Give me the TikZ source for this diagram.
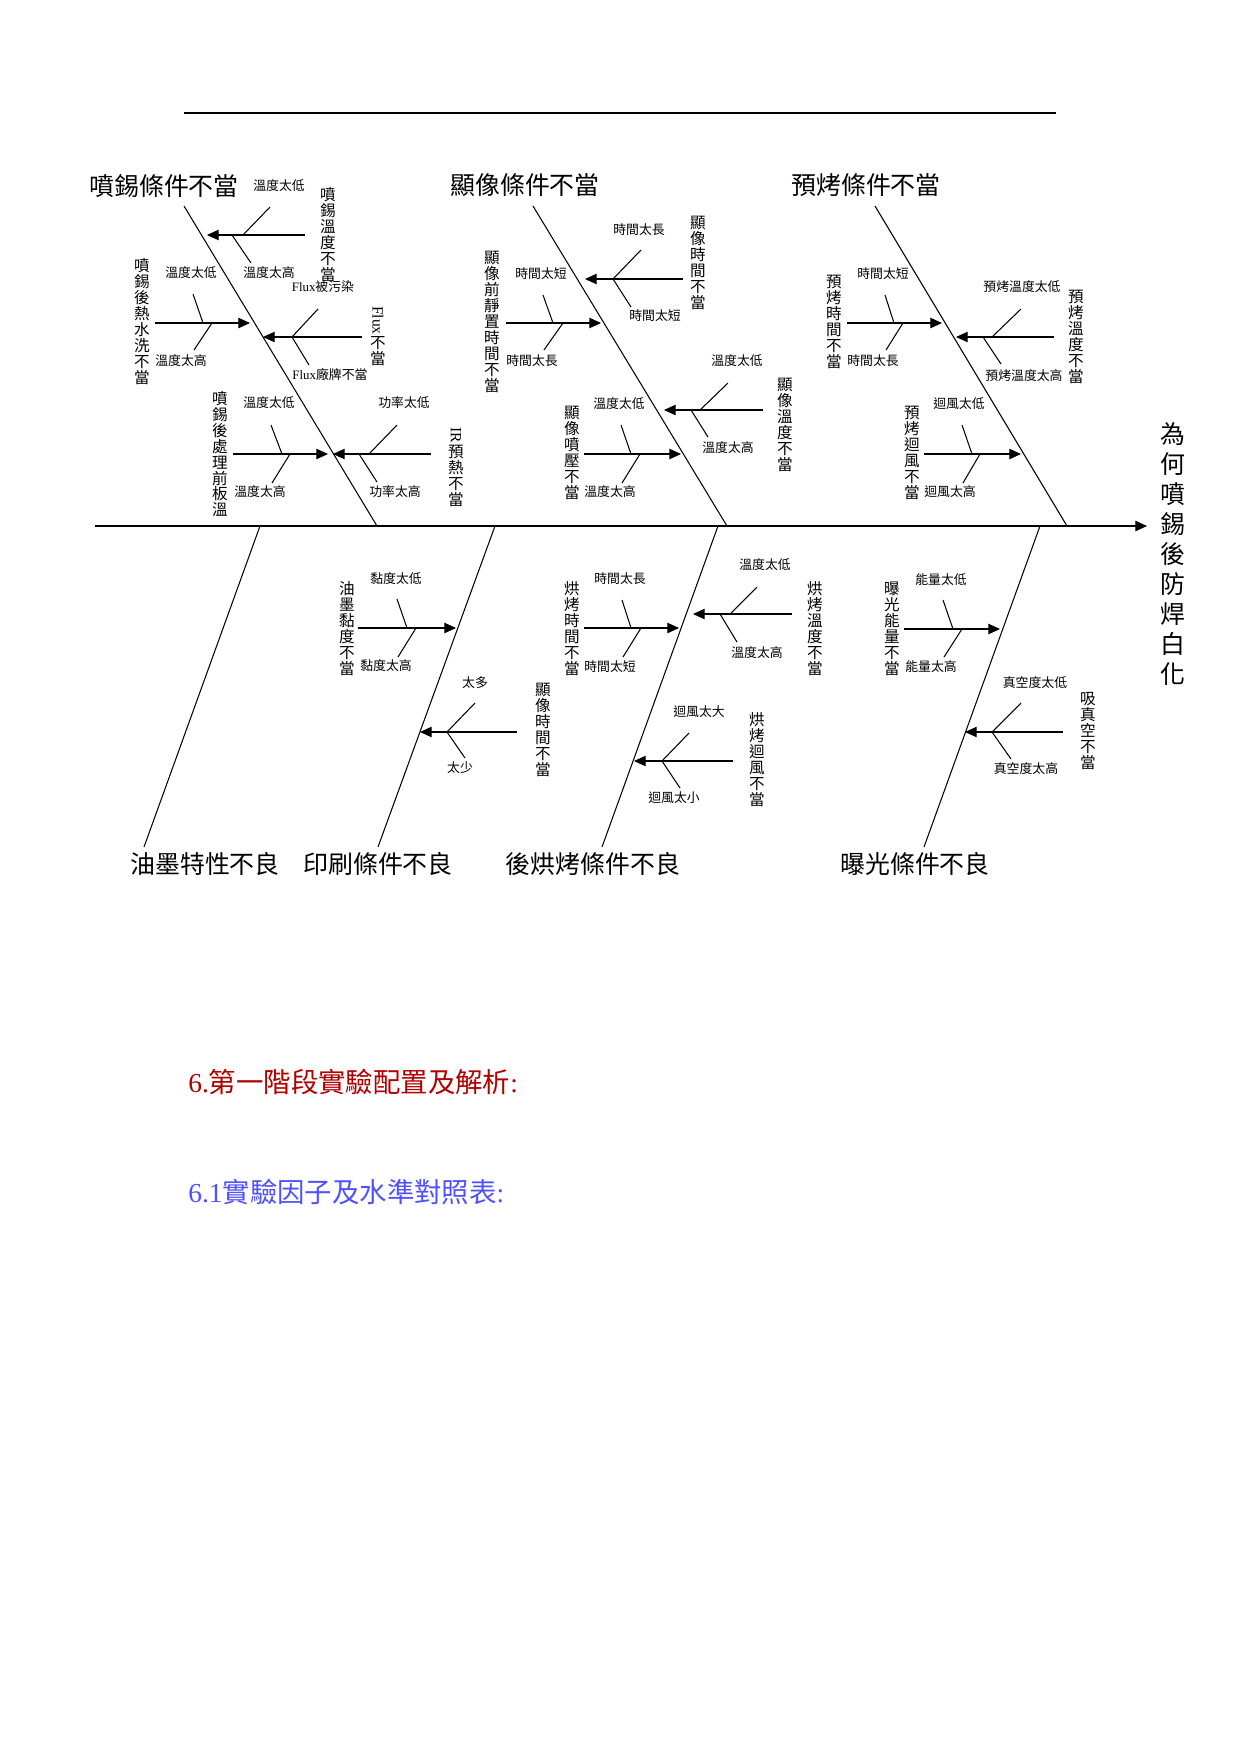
\documentclass[tikz,border=0pt]{standalone}
\usepackage{fontspec}
\newfontfamily\cjk{Noto Sans CJK TC}
\newfontfamily\serif{Liberation Serif}
\usetikzlibrary{arrows.meta}
\tikzset{
  bone/.style={line width=0.5pt},
  cause/.style={line width=0.5pt,-{Triangle[length=5.6pt,width=5pt]}},
  title/.style={font=\cjk\fontsize{12}{14}\selectfont,inner sep=0pt},
  note/.style={font=\cjk\fontsize{6.2}{7}\selectfont,inner sep=0pt},
  vlabel/.style={font=\cjk\fontsize{7.5}{7.7}\selectfont,align=center,inner sep=0pt},
  heading/.style={font=\cjk\fontsize{13.2}{15}\selectfont,inner sep=0pt,anchor=west},
}
\begin{document}
\begin{tikzpicture}[x=0.16933mm,y=-0.16933mm]
  \useasboundingbox (0,0) rectangle (1241,1754);
  \fill[white] (0,0) rectangle (1241,1754);

  % top rule
  \coordinate (rule-l) at (184,113);
  \coordinate (rule-r) at (1056,113);
  \draw[line width=1.1pt] (rule-l) -- (rule-r);

  % spine and effect
  \coordinate (spine-l) at (95,526);
  \coordinate (spine-r) at (1147,526);
  \draw[cause] (spine-l) -- (spine-r);
  \node[title,align=center,font=\cjk\fontsize{12}{14.4}\selectfont] (effect) at (1173,554)
    {為\\何\\噴\\錫\\後\\防\\焊\\白\\化};

  % main bones
  \foreach \n/\xa/\ya/\xb/\yb in {b1/184/206/377/526, b2/533/206/727/526, b3/875/206/1067/526,
      bA/260/526/144/847, bB/495/526/378/847, bC/718/526/602/847, bD/1040/526/924/847}{
    \coordinate (\n-a) at (\xa,\ya);
    \coordinate (\n-b) at (\xb,\yb);
    \draw[bone] (\n-a) -- (\n-b);
  }

  \node[title] (spray)   at (164,186) {噴錫條件不當};
  \node[title] (develop) at (525,185) {顯像條件不當};
  \node[title] (prebake) at (866,185) {預烤條件不當};
  \node[title] (ink)     at (205,864) {油墨特性不良};
  \node[title] (print)   at (378,864) {印刷條件不良};
  \node[title] (postbake) at (593,864) {後烘烤條件不良};
  \node[title] (expose)  at (915,864) {曝光條件不良};

  % sub causes: tail, head, upper twig, lower twig
  \foreach \n/\tx/\hx/\y/\ub/\ux/\uy/\db/\dx/\dy in {
      1a/305/207/235/243/270/207/232/251/263,
      1b/155/250/323/203/193/294/212/194/350,
      1c/362/263/337/292/318/309/292/309/365,
      1d/233/328/454/282/271/425/290/272/483,
      1e/431/333/454/369/397/425/359/377/482,
      2a/683/585/279/613/641/250/613/631/307,
      2b/506/601/323/553/543/295/563/544/350,
      2c/763/664/410/700/728/383/691/708/437,
      2d/584/681/454/631/621/425/640/622/483,
      3a/847/942/323/894/885/295/903/886/350,
      3b/1054/956/337/992/1021/309/983/1001/364,
      3c/924/1021/454/972/962/425/980/963/483,
      Ba/358/456/628/407/397/599/416/398/657,
      Bb/517/420/732/447/475/703/447/465/758,
      Ca/584/679/628/631/622/600/641/623/657,
      Cb/792/693/614/730/757/587/720/737/642,
      Cc/733/634/761/662/689/733/662/680/788,
      Da/904/1000/629/953/943/600/962/944/657,
      Db/1063/965/732/992/1021/703/992/1011/759}{
    \coordinate (\n-t) at (\tx,\y);
    \coordinate (\n-h) at (\hx,\y);
    \coordinate (\n-u0) at (\ub,\y);
    \coordinate (\n-u1) at (\ux,\uy);
    \coordinate (\n-d0) at (\db,\y);
    \coordinate (\n-d1) at (\dx,\dy);
    \draw[cause] (\n-t) -- (\n-h);
    \draw[bone] (\n-u0) -- (\n-u1);
    \draw[bone] (\n-d0) -- (\n-d1);
  }

  % 噴錫條件不當
  \node[vlabel] (1a) at (328,235) {噴\\錫\\溫\\度\\不\\當};
  \node[note] (1a-lo) at (279,186) {溫度太低};
  \node[note] (1a-hi) at (269,273) {溫度太高};
  \node[vlabel] (1b) at (142,322) {噴\\錫\\後\\熱\\水\\洗\\不\\當};
  \node[note] (1b-lo) at (191,273) {溫度太低};
  \node[note] (1b-hi) at (181,361) {溫度太高};
  \node[vlabel] (1c) at (378,336) {\rotatebox{-90}{\serif Flux}\\不\\當};
  \node[note] (1c-lo) at (323,287) {{\serif Flux}被污染};
  \node[note] (1c-hi) at (330,375) {{\serif Flux}廠牌不當};
  \node[vlabel] (1d) at (220,454) {噴\\錫\\後\\處\\理\\前\\板\\溫};
  \node[note] (1d-lo) at (269,403) {溫度太低};
  \node[note] (1d-hi) at (260,492) {溫度太高};
  \node[vlabel] (1e) at (456,467) {\rotatebox{-90}{\serif IR}\\預\\熱\\不\\當};
  \node[note] (1e-lo) at (404,403) {功率太低};
  \node[note] (1e-hi) at (395,492) {功率太高};

  % 顯像條件不當
  \node[vlabel] (2a) at (698,263) {顯\\像\\時\\間\\不\\當};
  \node[note] (2a-lo) at (639,230) {時間太長};
  \node[note] (2a-hi) at (655,316) {時間太短};
  \node[vlabel] (2b) at (492,322) {顯\\像\\前\\靜\\置\\時\\間\\不\\當};
  \node[note] (2b-lo) at (541,274) {時間太短};
  \node[note] (2b-hi) at (532,361) {時間太長};
  \node[vlabel] (2c) at (785,425) {顯\\像\\溫\\度\\不\\當};
  \node[note] (2c-lo) at (737,361) {溫度太低};
  \node[note] (2c-hi) at (728,448) {溫度太高};
  \node[vlabel] (2d) at (572,453) {顯\\像\\噴\\壓\\不\\當};
  \node[note] (2d-lo) at (619,404) {溫度太低};
  \node[note] (2d-hi) at (610,492) {溫度太高};

  % 預烤條件不當
  \node[vlabel] (3a) at (834,322) {預\\烤\\時\\間\\不\\當};
  \node[note] (3a-lo) at (883,274) {時間太短};
  \node[note] (3a-hi) at (873,361) {時間太長};
  \node[vlabel] (3b) at (1076,337) {預\\烤\\溫\\度\\不\\當};
  \node[note] (3b-lo) at (1022,287) {預烤溫度太低};
  \node[note] (3b-hi) at (1024,376) {預烤溫度太高};
  \node[vlabel] (3c) at (912,453) {預\\烤\\迴\\風\\不\\當};
  \node[note] (3c-lo) at (959,404) {迴風太低};
  \node[note] (3c-hi) at (950,492) {迴風太高};

  % 印刷條件不良
  \node[vlabel] (Ba) at (347,629) {油\\墨\\黏\\度\\不\\當};
  \node[note] (Ba-lo) at (396,579) {黏度太低};
  \node[note] (Ba-hi) at (386,666) {黏度太高};
  \node[vlabel] (Bb) at (543,730) {顯\\像\\時\\間\\不\\當};
  \node[note] (Bb-lo) at (475,683) {太多};
  \node[note] (Bb-hi) at (460,768) {太少};

  % 後烘烤條件不良
  \node[vlabel] (Ca) at (572,629) {烘\\烤\\時\\間\\不\\當};
  \node[note] (Ca-lo) at (620,579) {時間太長};
  \node[note] (Ca-hi) at (610,667) {時間太短};
  \node[vlabel] (Cb) at (815,629) {烘\\烤\\溫\\度\\不\\當};
  \node[note] (Cb-lo) at (765,565) {溫度太低};
  \node[note] (Cb-hi) at (757,653) {溫度太高};
  \node[vlabel] (Cc) at (757,760) {烘\\烤\\迴\\風\\不\\當};
  \node[note] (Cc-lo) at (699,712) {迴風太大};
  \node[note] (Cc-hi) at (674,798) {迴風太小};

  % 曝光條件不良
  \node[vlabel] (Da) at (892,629) {曝\\光\\能\\量\\不\\當};
  \node[note] (Da-lo) at (941,580) {能量太低};
  \node[note] (Da-hi) at (931,667) {能量太高};
  \node[vlabel] (Db) at (1088,731) {吸\\真\\空\\不\\當};
  \node[note] (Db-lo) at (1035,683) {真空度太低};
  \node[note] (Db-hi) at (1026,769) {真空度太高};

  % section headings
  \node[heading,text={rgb,255:red,176;green,0;blue,0}] (sec6) at (188,1082)
    {{\serif 6.}第一階段實驗配置及解析{\serif :}};
  \node[heading,text={rgb,255:red,80;green,80;blue,255}] (sec61) at (188,1192)
    {{\serif 6.1}實驗因子及水準對照表{\serif :}};
\end{tikzpicture}
\end{document}
